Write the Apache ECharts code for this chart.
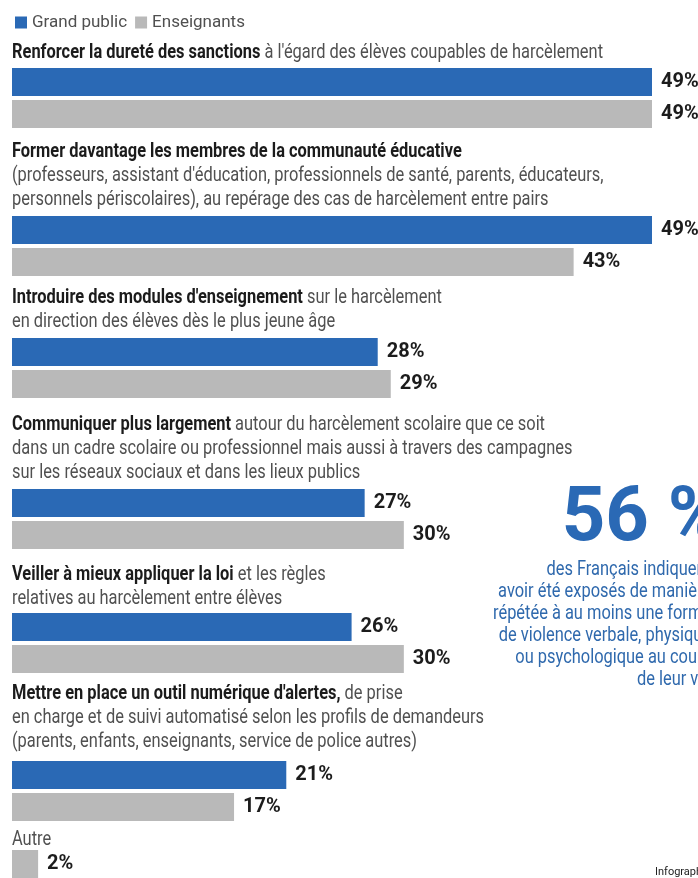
<!DOCTYPE html>
<html><head><meta charset="utf-8">
<script src="https://cdn.jsdelivr.net/npm/echarts@6/dist/echarts.min.js"></script>
<style>html,body{margin:0;padding:0;background:#fff}#c{width:698px;height:878px}</style>
</head><body><div id="c"></div>
<script>
// ---- data ----
const seriesNames = ['Grand public', 'Enseignants'];
const headingBold = [
  'Renforcer la dureté des sanctions',
  'Former davantage les membres de la communauté éducative',
  "Introduire des modules d'enseignement",
  'Communiquer plus largement',
  'Veiller à mieux appliquer la loi',
  "Mettre en place un outil numérique d'alertes,",
  ''
];
const headingRest = [
  [" à l'égard des élèves coupables de harcèlement"],
  ['', "(professeurs, assistant d'éducation, professionnels de santé, parents, éducateurs,", 'personnels périscolaires), au repérage des cas de harcèlement entre pairs'],
  [' sur le harcèlement', 'en direction des élèves dès le plus jeune âge'],
  [' autour du harcèlement scolaire que ce soit', 'dans un cadre scolaire ou professionnel mais aussi à travers des campagnes', 'sur les réseaux sociaux et dans les lieux publics'],
  [' et les règles', 'relatives au harcèlement entre élèves'],
  [' de prise', 'en charge et de suivi automatisé selon les profils de demandeurs', '(parents, enfants, enseignants, service de police autres)'],
  ['Autre']
];
const grandPublic = [49, 49, 28, 27, 26, 21, null];
const enseignants = [49, 43, 29, 30, 30, 17, 2];
const highlightValue = '56 %';
const highlightText = ['des Français indiquent', 'avoir été exposés de manière', 'répétée à au moins une forme', 'de violence verbale, physique', 'ou psychologique au cours', 'de leur vie'];
const creditText = 'Infographie';

// ---- layout / style ----
const BLUE = '#2a69b5', GREY = '#b9b9b9';
const FONT = 'Roboto';
const FS = 20, LH = 24;
const barTops = [66, 214, 336, 487, 611, 759, 850];
const textTops = [41, 140, 286, 413, 563, 682, 828];

// condense factor measured so the first heading fits its width in the reference
const cv = document.createElement('canvas').getContext('2d');
cv.font = '700 ' + FS + 'px ' + FONT;
let w = cv.measureText(headingBold[0]).width;
cv.font = '400 ' + FS + 'px ' + FONT;
w += cv.measureText(headingRest[0][0]).width;
const SX = 591 / w;

const grids = [], xAxes = [], yAxes = [], series = [], graphics = [];
grandPublic.forEach((gp, i) => {
  const single = gp === null;
  grids.push({ left: 12, width: 640, top: barTops[i], height: single ? 32 : 64 });
  xAxes.push({ gridIndex: i, type: 'value', min: 0, max: 49, show: false });
  yAxes.push({ gridIndex: i, type: 'category', inverse: true, show: false,
    data: single ? [seriesNames[1]] : seriesNames });
  const lbl = { show: true, position: 'right', distance: 9, formatter: p => p.value + '%',
    fontFamily: FONT, fontWeight: 'bold', fontSize: 20, color: '#1c1c1c' };
  if (!single) {
    series.push({ name: seriesNames[0], type: 'bar', xAxisIndex: i, yAxisIndex: i,
      barWidth: 28, barGap: '-100%', itemStyle: { color: BLUE }, label: lbl,
      data: [gp, '-'] });
  }
  series.push({ name: seriesNames[1], type: 'bar', xAxisIndex: i, yAxisIndex: i,
    barWidth: 28, barGap: '-100%', itemStyle: { color: GREY }, label: lbl,
    data: single ? [enseignants[i]] : ['-', enseignants[i]] });

  // heading text
  const rest = headingRest[i];
  const lines = rest.map((t, k) => {
    if (k === 0) return (headingBold[i] ? '{b|' + headingBold[i] + '}' : '') + (t ? '{n|' + t + '}' : '');
    return '{n|' + t + '}';
  });
  graphics.push({ type: 'text', x: 12, y: textTops[i], scaleX: SX, silent: true,
    style: { text: lines.join('\n'), x: 0, y: 0, verticalAlign: 'top', align: 'left',
      rich: {
        b: { fontFamily: FONT, fontWeight: 'bold', fontSize: FS, lineHeight: LH, fill: '#1b1b1b', color: '#1b1b1b' },
        n: { fontFamily: FONT, fontWeight: 'normal', fontSize: FS, lineHeight: LH, fill: '#505050', color: '#505050' }
      } } });
});

// highlight block
graphics.push({ type: 'text', x: 724, y: 521, silent: true,
  style: { text: highlightValue, x: 0, y: 0, align: 'right', verticalAlign: 'middle',
    font: 'bold 76px ' + FONT, fill: BLUE } });
highlightText.forEach((t, k) => {
  graphics.push({ type: 'text', x: 711, y: 570 + k * 22, scaleX: SX, silent: true,
    style: { text: t, x: 0, y: 0, align: 'right', verticalAlign: 'middle',
      font: '20px ' + FONT, fill: '#2f69ad' } });
});
graphics.push({ type: 'text', x: 655, y: 872, silent: true,
  style: { text: creditText, x: 0, y: 0, verticalAlign: 'middle', font: '11px ' + FONT, fill: '#222' } });

const chart = echarts.init(document.getElementById('c'), null, { renderer: 'canvas' });
chart.setOption({
  animation: false,
  backgroundColor: '#fff',
  legend: { data: seriesNames, left: 10, top: 9, icon: 'rect', itemWidth: 12, itemHeight: 12,
    itemGap: 8, textStyle: { fontFamily: FONT, fontSize: 17, color: '#505050' } },
  grid: grids, xAxis: xAxes, yAxis: yAxes, series: series, graphic: graphics
});
</script></body></html>
